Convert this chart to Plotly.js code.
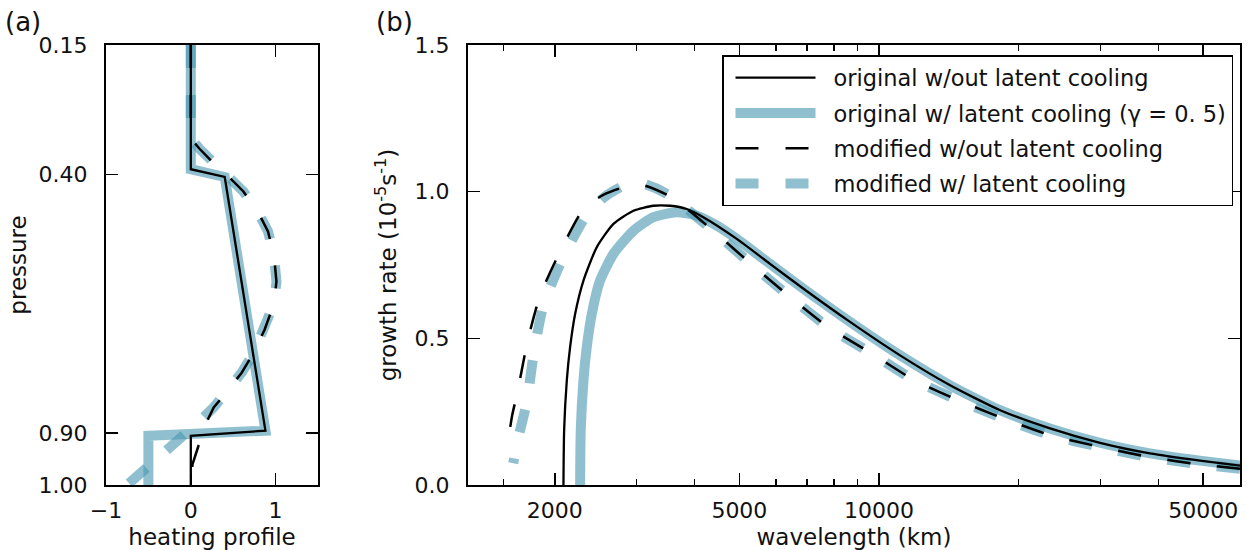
<!DOCTYPE html>
<html>
<head>
<meta charset="utf-8">
<script src="https://cdn.plot.ly/plotly-3.0.1.min.js"></script>
<style>
  html, body { margin: 0; padding: 0; background: #ffffff; }
  #chart { width: 1247px; height: 550px; }
</style>
</head>
<body>
<div id="chart"></div>
<script>
// ---------- Panel (a): heating profiles ----------
const pressureTicks = [0.15, 0.40, 0.90, 1.00];
const heatTicks = [-1, 0, 1];

const origNoCoolHeat = [0, 0, 0.40, 0.88, 0, 0];
const origNoCoolP    = [0.15, 0.39, 0.405, 0.895, 0.905, 1.00];

const origCoolHeat = [0, 0, 0.40, 0.88, -0.50, -0.50];
const origCoolP    = [0.15, 0.39, 0.405, 0.895, 0.905, 1.00];

const modNoCoolHeat = [0, 0, 0.10, 0.25, 0.45, 0.62, 0.80, 0.91, 0.98, 1.01, 0.98, 0.87, 0.74, 0.60, 0.40, 0.27, 0.17, 0.08, 0.02, 0];
const modNoCoolP    = [0.15, 0.33, 0.35, 0.375, 0.405, 0.433, 0.475, 0.51, 0.555, 0.607, 0.65, 0.70, 0.745, 0.783, 0.825, 0.85, 0.884, 0.93, 0.96, 1.00];

const modCoolHeat = [0, 0, 0.10, 0.25, 0.45, 0.62, 0.80, 0.91, 0.98, 1.01, 0.98, 0.87, 0.74, 0.60, 0.40, 0.27, 0.12, -0.75];
const modCoolP    = [0.15, 0.33, 0.35, 0.375, 0.405, 0.433, 0.475, 0.51, 0.555, 0.607, 0.65, 0.70, 0.745, 0.783, 0.825, 0.85, 0.874, 1.00];

// ---------- Panel (b): growth rate vs wavelength ----------
const wlMajorTicks = [2000, 5000, 10000, 50000];
const wlMajorLabels = ['2000', '5000', '10000', '50000'];
const wlMinorTicks = [1550, 3000, 4000, 6000, 7000, 8000, 9000, 20000, 30000, 40000];
const growthTicks = [0.0, 0.5, 1.0, 1.5];

const origNoCoolWl = [2088, 2095, 2123, 2158, 2213, 2306, 2464, 2676, 2955, 3263, 3545, 3851, 4181, 4935, 5821, 6873, 8660, 11100, 14230, 18240, 23360, 29950, 38370, 49200, 60000];
const origNoCoolGr = [0.000, 0.187, 0.357, 0.470, 0.584, 0.697, 0.811, 0.890, 0.935, 0.952, 0.952, 0.941, 0.913, 0.839, 0.754, 0.669, 0.556, 0.442, 0.340, 0.255, 0.193, 0.144, 0.108, 0.083, 0.066];

const origCoolWl = [2268, 2275, 2306, 2344, 2404, 2504, 2676, 2955, 3263, 3664, 4047, 4473, 4935, 5821, 6873, 8660, 11100, 14230, 18240, 23360, 29950, 38370, 49200, 60000];
const origCoolGr = [0.000, 0.187, 0.357, 0.470, 0.584, 0.697, 0.788, 0.867, 0.913, 0.930, 0.918, 0.884, 0.839, 0.754, 0.669, 0.556, 0.442, 0.340, 0.255, 0.193, 0.144, 0.108, 0.083, 0.066];

const modNoCoolWl = [1575, 1590, 1620, 1662, 1746, 1859, 2042, 2306, 2550, 2880, 3100, 3580, 4440, 5294, 6428, 7760, 9645, 11860, 14820, 18530, 23360, 29950, 38040, 48730, 60000];
const modNoCoolGr = [0.110, 0.160, 0.240, 0.317, 0.488, 0.646, 0.788, 0.941, 0.990, 1.020, 1.022, 0.980, 0.860, 0.754, 0.641, 0.539, 0.448, 0.359, 0.289, 0.227, 0.170, 0.130, 0.096, 0.071, 0.055];

const modCoolWl = [1627, 1662, 1741, 1799, 1890, 2078, 2325, 2550, 2812, 3050, 3300, 3580, 4440, 5294, 6428, 7760, 9645, 11860, 14820, 18530, 23360, 29950, 38040, 48730, 60000];
const modCoolGr = [0.074, 0.150, 0.283, 0.442, 0.612, 0.771, 0.913, 0.980, 1.020, 1.030, 1.012, 0.981, 0.860, 0.754, 0.641, 0.539, 0.448, 0.359, 0.289, 0.227, 0.170, 0.130, 0.096, 0.071, 0.055];

const seriesNames = [
  'original w/out latent cooling',
  'original w/ latent cooling (γ = 0. 5)',
  'modified w/out latent cooling',
  'modified w/ latent cooling'
];

// ---------- styles ----------
const BLUE = 'rgba(70,150,175,0.6)';
const BLACK = '#000000';
const DASH = '23px,27px';
const FONT = 'DejaVu Sans, sans-serif';
const TXT = '#111';

const styles = [
  {color: BLACK, width: 2.3, dash: 'solid', z: 2},
  {color: BLUE, width: 10, dash: 'solid', z: 1},
  {color: BLACK, width: 2.5, dash: DASH, z: 2},
  {color: BLUE, width: 10, dash: DASH, z: 1}
];

const panelA = [
  [origNoCoolHeat, origNoCoolP],
  [origCoolHeat, origCoolP],
  [modNoCoolHeat, modNoCoolP],
  [modCoolHeat, modCoolP]
];
const panelB = [
  [origNoCoolWl, origNoCoolGr],
  [origCoolWl, origCoolGr],
  [modNoCoolWl, modNoCoolGr],
  [modCoolWl, modCoolGr]
];

const traces = [];
panelA.forEach(([x, y], i) => {
  traces.push({
    type: 'scatter', mode: 'lines', x: x, y: y,
    xaxis: 'x', yaxis: 'y', showlegend: false, zorder: styles[i].z,
    name: seriesNames[i], hoverinfo: 'skip',
    line: {color: styles[i].color, width: styles[i].width, dash: styles[i].dash, shape: 'linear'}
  });
});
panelB.forEach(([x, y], i) => {
  // curves are traced from long to short wavelength, so the dashed pairs share their dash phase on the right
  traces.push({
    type: 'scatter', mode: 'lines', x: x.slice().reverse(), y: y.slice().reverse(),
    xaxis: 'x2', yaxis: 'y2', showlegend: true, zorder: styles[i].z,
    name: seriesNames[i], legendgroup: 'g' + i, hoverinfo: 'skip',
    line: {color: styles[i].color, width: styles[i].width, dash: styles[i].dash, shape: 'spline', smoothing: 0.6}
  });
});

const W = 1247, H = 550;
const px = v => v / W;
const py = v => 1 - v / H;

const axisCommon = {
  showline: true, linecolor: '#000', linewidth: 2, mirror: 'allticks',
  ticks: 'inside', ticklen: 12, tickwidth: 1.6, tickcolor: '#000',
  showgrid: false, zeroline: false,
  tickfont: {family: FONT, size: 22, color: TXT},
  fixedrange: true
};
const titleFont = {family: FONT, size: 23, color: TXT};

const layout = {
  width: W, height: H,
  margin: {l: 0, r: 0, t: 0, b: 0, pad: 0},
  paper_bgcolor: '#fff', plot_bgcolor: '#fff',
  font: {family: FONT, size: 22, color: TXT},
  showlegend: true,
  legend: {
    x: px(722), y: py(55), xanchor: 'left', yanchor: 'top',
    bgcolor: '#fff', bordercolor: '#000', borderwidth: 1.5,
    font: {family: FONT, size: 22.5, color: TXT},
    itemwidth: 100, tracegroupgap: 3, traceorder: 'grouped',
    itemclick: false, itemdoubleclick: false
  },
  xaxis: Object.assign({}, axisCommon, {
    domain: [px(106), px(318)], range: [-1, 1.5],
    tickmode: 'array', tickvals: heatTicks,
    anchor: 'y',
    title: {text: 'heating profile', font: titleFont, standoff: 12},
    ticklabelstandoff: 5
  }),
  yaxis: Object.assign({}, axisCommon, {
    domain: [py(485), py(45)], range: [1.0, 0.15],
    tickmode: 'array', tickvals: pressureTicks, tickformat: '.2f',
    anchor: 'x',
    title: {text: 'pressure', font: titleFont, standoff: 6},
    ticklabelstandoff: 12
  }),
  xaxis2: Object.assign({}, axisCommon, {
    domain: [px(468), px(1240)], type: 'log',
    range: [Math.log10(1300), Math.log10(60000)],
    tickmode: 'array', tickvals: wlMajorTicks, ticktext: wlMajorLabels,
    minor: {tickmode: 'array', tickvals: wlMinorTicks, ticks: 'inside', ticklen: 6, tickwidth: 1.4, tickcolor: '#000', showgrid: false},
    anchor: 'y2',
    title: {text: 'wavelength (km)', font: titleFont, standoff: 12},
    ticklabelstandoff: 5
  }),
  yaxis2: Object.assign({}, axisCommon, {
    domain: [py(485), py(45)], range: [0, 1.5],
    tickmode: 'array', tickvals: growthTicks, tickformat: '.1f',
    anchor: 'x2',
    title: {text: 'growth rate (10<sup>-5</sup>s<sup>-1</sup>)', font: titleFont, standoff: 12},
    ticklabelstandoff: 12
  }),
  annotations: [
    {text: '(a)', xref: 'paper', yref: 'paper', x: px(3), y: py(5), xanchor: 'left', yanchor: 'top', showarrow: false, font: {family: FONT, size: 26, color: TXT}},
    {text: '(b)', xref: 'paper', yref: 'paper', x: px(374), y: py(5), xanchor: 'left', yanchor: 'top', showarrow: false, font: {family: FONT, size: 26, color: TXT}}
  ]
};

Plotly.newPlot('chart', traces, layout, {displayModeBar: false, staticPlot: true}).then(gd => {
  // lengthen the legend's line samples to match the reference legend
  gd.querySelectorAll('.legend .traces path.js-line').forEach(p => p.setAttribute('d', 'M12,0h80'));
});
</script>
</body>
</html>
